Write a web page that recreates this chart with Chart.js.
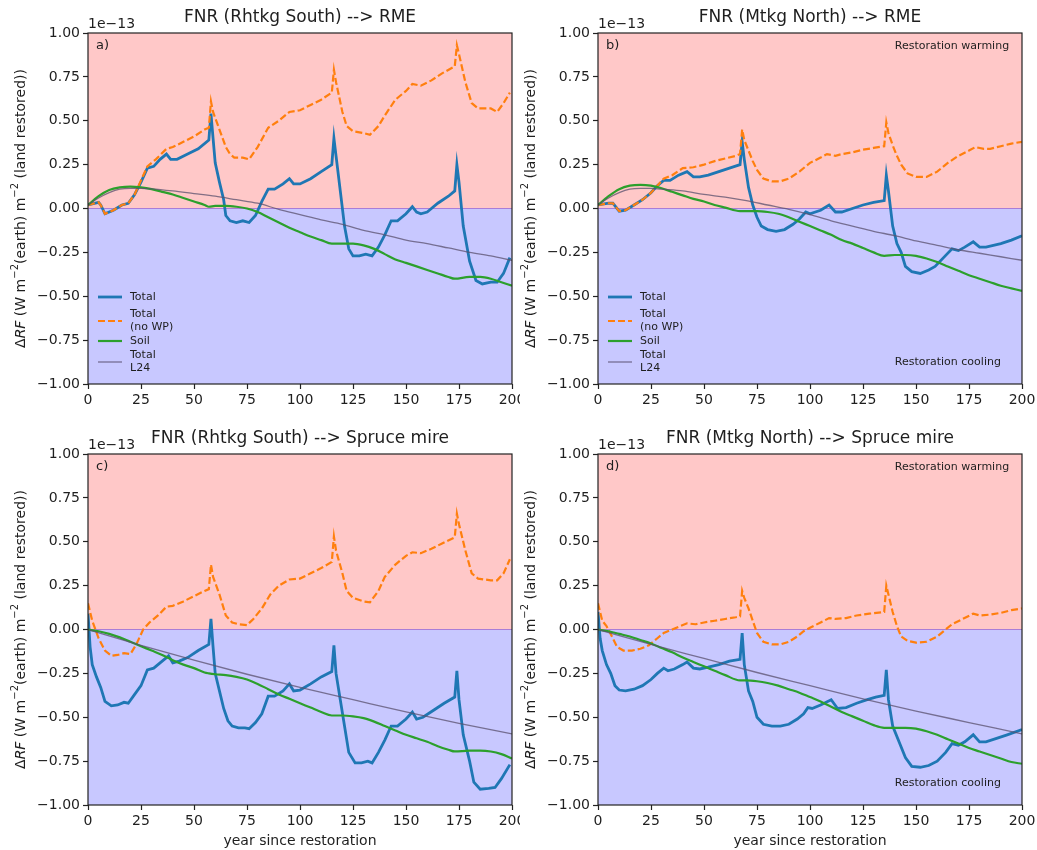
<!DOCTYPE html>
<html><head><meta charset="utf-8">
<script src="https://cdn.jsdelivr.net/npm/chart.js@4.4.0/dist/chart.umd.min.js"></script>
<style>
html,body{margin:0;padding:0;background:#fff;width:1037px;height:850px;overflow:hidden}
canvas{position:absolute}
</style></head><body>
<canvas id="ca" width="520" height="420" style="left:0;top:0"></canvas>
<canvas id="cb" width="517" height="420" style="left:520px;top:0"></canvas>
<canvas id="cc" width="520" height="430" style="left:0;top:420px"></canvas>
<canvas id="cd" width="517" height="430" style="left:520px;top:420px"></canvas>
<script>
// ---------- data (units of 1e-13 W m-2(earth) m-2 (land restored)) ----------
const xTicks = [0, 25, 50, 75, 100, 125, 150, 175, 200];
const yTicks = [-1, -0.75, -0.5, -0.25, 0, 0.25, 0.5, 0.75, 1];
const seriesLabels = [['Total'], ['Total', '(no WP)'], ['Soil'], ['Total', 'L24']];
const panelTitles = ['FNR (Rhtkg South) --> RME', 'FNR (Mtkg North) --> RME',
                     'FNR (Rhtkg South) --> Spruce mire', 'FNR (Mtkg North) --> Spruce mire'];
const panelLetters = ['a)', 'b)', 'c)', 'd)'];
const xTitle = 'year since restoration';
const warmText = 'Restoration warming';
const coolText = 'Restoration cooling';
const scaleText = '1e\u221213';

const a_total = [[0,0.02],[5,0.035],[6,0.02],[8,-0.03],[12,-0.01],[16,0.02],[19,0.03],[22,0.08],[25,0.15],[28,0.23],[31,0.24],[34,0.28],[37,0.31],[39,0.28],[42,0.28],[47,0.31],[52,0.34],[57,0.39],[58,0.54],[59,0.40],[60,0.26],[62,0.15],[64,0.05],[65,-0.04],[67,-0.07],[70,-0.08],[73,-0.07],[76,-0.08],[79,-0.04],[82,0.04],[85,0.11],[88,0.11],[92,0.14],[95,0.17],[97,0.14],[100,0.14],[105,0.17],[110,0.21],[115,0.25],[116,0.40],[117,0.3],[119,0.1],[121,-0.1],[123,-0.23],[125,-0.27],[128,-0.27],[131,-0.26],[134,-0.27],[137,-0.22],[140,-0.15],[143,-0.07],[146,-0.07],[150,-0.03],[153,0.01],[155,-0.02],[157,-0.03],[160,-0.02],[165,0.03],[170,0.07],[173,0.1],[174,0.25],[175,0.15],[177,-0.1],[180,-0.3],[183,-0.41],[186,-0.43],[190,-0.42],[193,-0.42],[196,-0.37],[199,-0.28]];
const a_nowp = [[0,0.02],[5,0.035],[6,0.02],[8,-0.03],[12,-0.01],[16,0.02],[19,0.03],[22,0.08],[25,0.16],[28,0.24],[32,0.28],[37,0.34],[40,0.35],[45,0.38],[50,0.41],[55,0.45],[57,0.46],[58,0.61],[59,0.55],[62,0.45],[65,0.35],[67,0.31],[69,0.29],[73,0.29],[76,0.28],[80,0.35],[85,0.46],[90,0.5],[95,0.55],[100,0.56],[105,0.59],[110,0.62],[115,0.66],[116,0.79],[117,0.72],[120,0.55],[122,0.47],[125,0.44],[130,0.43],[133,0.42],[137,0.47],[140,0.53],[145,0.62],[150,0.67],[153,0.71],[157,0.7],[162,0.73],[167,0.77],[173,0.81],[174,0.93],[175,0.88],[178,0.72],[181,0.6],[184,0.57],[190,0.57],[193,0.55],[196,0.6],[199,0.66]];
const a_soil = [[0,0.02],[5,0.07],[10,0.105],[15,0.12],[20,0.125],[25,0.12],[30,0.11],[35,0.095],[40,0.08],[45,0.06],[50,0.04],[55,0.02],[57,0.01],[60,0.015],[65,0.015],[70,0.01],[75,0.0],[80,-0.02],[85,-0.05],[90,-0.08],[95,-0.11],[100,-0.135],[105,-0.16],[110,-0.18],[115,-0.2],[120,-0.2],[125,-0.2],[130,-0.21],[135,-0.23],[140,-0.26],[145,-0.29],[150,-0.31],[155,-0.33],[160,-0.35],[165,-0.37],[170,-0.39],[173,-0.4],[180,-0.39],[185,-0.39],[190,-0.4],[195,-0.42],[200,-0.44]];
const a_l24 = [[0,0.02],[5,0.06],[10,0.09],[15,0.11],[20,0.115],[25,0.115],[30,0.112],[40,0.1],[50,0.085],[60,0.07],[70,0.05],[80,0.03],[90,-0.005],[100,-0.035],[110,-0.065],[120,-0.09],[130,-0.125],[140,-0.15],[150,-0.18],[160,-0.2],[170,-0.225],[180,-0.25],[190,-0.27],[200,-0.295]];

const b_total = [[0,0.02],[5,0.03],[7,0.03],[10,-0.015],[13,-0.01],[17,0.02],[21,0.05],[25,0.09],[28,0.13],[31,0.16],[34,0.16],[38,0.19],[42,0.21],[45,0.18],[48,0.18],[52,0.19],[57,0.21],[62,0.23],[67,0.25],[68,0.38],[69,0.28],[71,0.12],[73,0.02],[75,-0.05],[77,-0.1],[80,-0.12],[84,-0.13],[88,-0.12],[92,-0.09],[95,-0.06],[98,-0.02],[100,-0.03],[105,-0.01],[109,0.02],[112,-0.02],[115,-0.02],[120,0.0],[125,0.02],[130,0.035],[135,0.045],[136,0.19],[137,0.1],[139,-0.1],[141,-0.2],[143,-0.25],[145,-0.33],[148,-0.36],[152,-0.37],[156,-0.35],[159,-0.33],[163,-0.28],[167,-0.23],[170,-0.24],[173,-0.22],[177,-0.19],[180,-0.22],[183,-0.22],[190,-0.2],[195,-0.18],[200,-0.155]];
const b_nowp = [[0,0.02],[5,0.03],[7,0.03],[10,-0.015],[13,-0.01],[17,0.02],[21,0.05],[25,0.09],[28,0.13],[31,0.17],[35,0.19],[40,0.23],[45,0.235],[50,0.25],[55,0.27],[60,0.285],[65,0.3],[67,0.31],[68,0.45],[69,0.39],[71,0.33],[73,0.27],[75,0.22],[78,0.17],[82,0.155],[86,0.155],[90,0.17],[95,0.21],[100,0.26],[105,0.29],[108,0.31],[112,0.3],[115,0.31],[120,0.32],[125,0.335],[130,0.345],[135,0.355],[136,0.49],[137,0.43],[139,0.36],[141,0.3],[143,0.25],[146,0.2],[150,0.18],[155,0.18],[160,0.21],[165,0.26],[170,0.3],[175,0.33],[178,0.35],[182,0.34],[185,0.34],[190,0.355],[195,0.37],[200,0.38]];
const b_soil = [[0,0.02],[5,0.07],[10,0.11],[15,0.13],[20,0.135],[25,0.13],[30,0.115],[35,0.095],[40,0.075],[45,0.055],[50,0.04],[55,0.02],[60,0.005],[67,-0.015],[70,-0.015],[75,-0.015],[80,-0.02],[85,-0.03],[90,-0.05],[95,-0.075],[100,-0.1],[105,-0.125],[110,-0.15],[115,-0.18],[120,-0.2],[125,-0.225],[130,-0.25],[135,-0.27],[140,-0.265],[145,-0.265],[150,-0.27],[155,-0.285],[160,-0.305],[165,-0.33],[170,-0.355],[175,-0.38],[180,-0.4],[185,-0.42],[190,-0.44],[195,-0.455],[200,-0.47]];
const b_l24 = [[0,0.02],[5,0.06],[10,0.09],[15,0.11],[20,0.115],[25,0.115],[30,0.11],[40,0.1],[50,0.08],[60,0.065],[70,0.045],[80,0.02],[90,-0.005],[100,-0.035],[110,-0.07],[120,-0.1],[130,-0.13],[140,-0.155],[150,-0.185],[160,-0.21],[170,-0.235],[180,-0.255],[190,-0.275],[200,-0.295]];

const c_total = [[0,0.09],[1,-0.1],[2,-0.2],[4,-0.27],[6,-0.33],[8,-0.41],[11,-0.435],[14,-0.43],[17,-0.415],[19,-0.42],[22,-0.37],[25,-0.32],[28,-0.23],[31,-0.22],[35,-0.18],[38,-0.15],[40,-0.19],[43,-0.18],[47,-0.16],[52,-0.12],[57,-0.085],[58,0.06],[59,-0.1],[60,-0.25],[62,-0.35],[64,-0.45],[66,-0.52],[68,-0.55],[71,-0.56],[74,-0.56],[76,-0.565],[79,-0.53],[82,-0.48],[85,-0.38],[88,-0.38],[92,-0.35],[95,-0.31],[97,-0.35],[100,-0.345],[105,-0.31],[110,-0.27],[115,-0.24],[116,-0.09],[117,-0.25],[119,-0.4],[121,-0.55],[123,-0.7],[126,-0.76],[129,-0.76],[132,-0.75],[134,-0.76],[137,-0.7],[140,-0.63],[143,-0.55],[146,-0.55],[150,-0.51],[153,-0.47],[155,-0.51],[158,-0.5],[163,-0.46],[168,-0.42],[173,-0.385],[174,-0.235],[175,-0.4],[177,-0.6],[180,-0.75],[182,-0.87],[185,-0.91],[189,-0.905],[192,-0.9],[195,-0.85],[199,-0.77]];
const c_nowp = [[0,0.15],[2,0.05],[5,-0.05],[8,-0.12],[11,-0.15],[14,-0.145],[17,-0.135],[20,-0.14],[23,-0.08],[26,0.0],[29,0.04],[33,0.08],[37,0.13],[40,0.135],[45,0.16],[50,0.19],[55,0.22],[57,0.23],[58,0.37],[59,0.3],[62,0.2],[65,0.08],[68,0.04],[71,0.03],[75,0.025],[78,0.06],[82,0.12],[86,0.2],[90,0.25],[95,0.285],[100,0.29],[105,0.32],[110,0.35],[115,0.385],[116,0.53],[117,0.45],[120,0.32],[122,0.22],[125,0.18],[130,0.16],[133,0.155],[137,0.22],[140,0.3],[145,0.37],[150,0.42],[153,0.44],[157,0.435],[162,0.46],[167,0.49],[173,0.525],[174,0.66],[175,0.6],[178,0.45],[181,0.32],[184,0.29],[190,0.28],[193,0.28],[196,0.32],[199,0.4]];
const c_soil = [[0,0.0],[5,-0.01],[10,-0.025],[15,-0.045],[20,-0.07],[25,-0.095],[30,-0.12],[35,-0.145],[40,-0.175],[45,-0.2],[50,-0.22],[55,-0.245],[57,-0.25],[60,-0.255],[65,-0.26],[70,-0.27],[75,-0.285],[80,-0.31],[85,-0.34],[90,-0.37],[95,-0.395],[100,-0.42],[105,-0.445],[110,-0.47],[115,-0.49],[120,-0.49],[125,-0.495],[130,-0.505],[135,-0.525],[140,-0.55],[145,-0.575],[150,-0.6],[155,-0.62],[160,-0.64],[165,-0.665],[170,-0.685],[173,-0.695],[180,-0.69],[185,-0.69],[190,-0.695],[195,-0.71],[200,-0.735]];
const c_l24 = [[0,0],[25,-0.09],[50,-0.175],[75,-0.255],[100,-0.33],[125,-0.4],[150,-0.47],[175,-0.535],[200,-0.595]];

const d_total = [[0,0.1],[1,-0.05],[2,-0.12],[4,-0.2],[6,-0.25],[8,-0.32],[10,-0.345],[13,-0.35],[17,-0.34],[21,-0.32],[25,-0.285],[28,-0.25],[31,-0.22],[33,-0.235],[36,-0.225],[40,-0.2],[42,-0.185],[45,-0.22],[48,-0.225],[52,-0.215],[57,-0.2],[62,-0.18],[67,-0.17],[68,-0.02],[69,-0.2],[71,-0.35],[73,-0.41],[75,-0.5],[78,-0.54],[82,-0.55],[86,-0.55],[90,-0.54],[94,-0.51],[97,-0.48],[99,-0.445],[101,-0.45],[105,-0.43],[110,-0.4],[113,-0.45],[117,-0.445],[122,-0.42],[127,-0.4],[131,-0.385],[135,-0.375],[136,-0.23],[137,-0.4],[139,-0.55],[142,-0.64],[145,-0.73],[148,-0.78],[152,-0.785],[156,-0.775],[160,-0.75],[164,-0.7],[167,-0.65],[170,-0.66],[173,-0.64],[177,-0.6],[180,-0.64],[183,-0.64],[188,-0.62],[193,-0.6],[200,-0.57]];
const d_nowp = [[0,0.15],[2,0.05],[4,0.02],[7,-0.05],[9,-0.1],[12,-0.12],[16,-0.12],[20,-0.11],[24,-0.09],[28,-0.05],[31,-0.02],[35,0.0],[39,0.02],[42,0.035],[46,0.03],[50,0.04],[55,0.05],[60,0.06],[65,0.07],[67,0.075],[68,0.22],[69,0.18],[71,0.12],[73,0.05],[75,-0.02],[78,-0.07],[82,-0.085],[86,-0.085],[90,-0.07],[94,-0.04],[97,-0.01],[100,0.01],[105,0.04],[109,0.065],[112,0.06],[117,0.065],[122,0.08],[128,0.09],[135,0.1],[136,0.25],[137,0.2],[139,0.1],[141,0.02],[143,-0.04],[146,-0.065],[150,-0.075],[155,-0.07],[160,-0.04],[164,0.0],[167,0.03],[172,0.06],[177,0.09],[180,0.08],[185,0.085],[190,0.095],[195,0.11],[200,0.12]];
const d_soil = [[0,0.0],[5,-0.01],[10,-0.025],[15,-0.04],[20,-0.06],[25,-0.08],[30,-0.105],[35,-0.13],[40,-0.16],[45,-0.185],[50,-0.21],[55,-0.235],[60,-0.26],[67,-0.29],[70,-0.29],[75,-0.295],[80,-0.305],[85,-0.32],[90,-0.34],[95,-0.36],[100,-0.385],[105,-0.41],[110,-0.44],[115,-0.47],[120,-0.495],[125,-0.52],[130,-0.545],[135,-0.56],[140,-0.56],[145,-0.56],[150,-0.565],[155,-0.58],[160,-0.6],[165,-0.625],[170,-0.65],[175,-0.675],[180,-0.695],[185,-0.715],[190,-0.735],[195,-0.755],[200,-0.765]];
const d_l24 = [[0,0],[25,-0.085],[50,-0.165],[75,-0.245],[100,-0.32],[125,-0.395],[150,-0.465],[175,-0.53],[200,-0.595]];

// ---------- styling ----------
const FONT = "'DejaVu Sans', sans-serif";
const TXT = '#1e1e1e';
const styles = [
  {color: '#1f77b4', width: 2.8, dash: []},
  {color: '#ff7f0e', width: 2.2, dash: [7, 3]},
  {color: '#2ca02c', width: 2.2, dash: []},
  {color: 'rgba(90,80,110,0.75)', width: 1.3, dash: []}
];
const fmtTick = v => (v < 0 ? '\u2212' : '') + Math.abs(v).toFixed(2);

function drawYLabel(ctx, cx, cy) {
  const base = '14px ' + FONT, ital = 'italic 14px ' + FONT, sup = '10px ' + FONT;
  const segs = [['\u0394', base, 0], ['RF', ital, 0], [' (W m', base, 0], ['\u22122', sup, -6],
                ['(earth) m', base, 0], ['\u22122', sup, -6], [' (land restored))', base, 0]];
  let total = 0;
  segs.forEach(s => { ctx.font = s[1]; total += ctx.measureText(s[0]).width; });
  ctx.save();
  ctx.translate(cx, cy);
  ctx.rotate(-Math.PI / 2);
  ctx.fillStyle = TXT;
  ctx.textBaseline = 'middle';
  ctx.textAlign = 'left';
  let x = -total / 2;
  segs.forEach(s => { ctx.font = s[1]; ctx.fillText(s[0], x, s[2]); x += ctx.measureText(s[0]).width; });
  ctx.restore();
}

const deco = {
  id: 'deco',
  beforeDatasetsDraw(chart, args, opts) {
    const {ctx, chartArea: ca} = chart;
    const y0 = chart.scales.y.getPixelForValue(0);
    ctx.save();
    ctx.fillStyle = '#ffc8c8';
    ctx.fillRect(ca.left, ca.top, ca.width, y0 - ca.top);
    ctx.fillStyle = '#c8c8ff';
    ctx.fillRect(ca.left, y0, ca.width, ca.bottom - y0);
    ctx.strokeStyle = 'rgba(160,110,210,0.85)';
    ctx.lineWidth = 1;
    ctx.beginPath(); ctx.moveTo(ca.left, y0); ctx.lineTo(ca.right, y0); ctx.stroke();
    ctx.restore();
  },
  afterDraw(chart, args, opts) {
    const {ctx, chartArea: ca} = chart;
    const xs = chart.scales.x;
    ctx.save();
    ctx.strokeStyle = '#222'; ctx.lineWidth = 1.2;
    ctx.strokeRect(ca.left, ca.top, ca.width, ca.height);
    ctx.fillStyle = TXT;
    ctx.font = '17px ' + FONT; ctx.textAlign = 'center'; ctx.textBaseline = 'middle';
    ctx.fillText(opts.title, (ca.left + ca.right) / 2, ca.top - 15);
    ctx.font = '14px ' + FONT; ctx.textAlign = 'left'; ctx.textBaseline = 'alphabetic';
    ctx.fillText(scaleText, ca.left, ca.top - 5);
    ctx.font = '13px ' + FONT; ctx.textBaseline = 'middle';
    ctx.fillText(opts.letter, ca.left + 8, ca.top + 13);
    drawYLabel(ctx, ca.left - 67, (ca.top + ca.bottom) / 2);
    if (opts.xtitle) {
      ctx.font = '14px ' + FONT; ctx.textAlign = 'center'; ctx.textBaseline = 'middle';
      ctx.fillText(xTitle, (ca.left + ca.right) / 2, ca.bottom + 36);
    }
    if (opts.notes) {
      ctx.font = '11px ' + FONT; ctx.textAlign = 'left'; ctx.textBaseline = 'middle';
      ctx.fillText(warmText, xs.getPixelForValue(140), ca.top + 13);
      ctx.fillText(coolText, xs.getPixelForValue(140), ca.bottom - 22);
    }
    if (opts.legend) {
      ctx.font = '11px ' + FONT; ctx.textAlign = 'left'; ctx.textBaseline = 'middle';
      const rows = [-87, -63, -43, -22];
      seriesLabels.forEach((lab, i) => {
        const yy = ca.bottom + rows[i];
        const st = styles[i];
        ctx.save();
        ctx.strokeStyle = st.color; ctx.lineWidth = st.width; ctx.setLineDash(st.dash);
        ctx.beginPath(); ctx.moveTo(ca.left + 10, yy); ctx.lineTo(ca.left + 34, yy); ctx.stroke();
        ctx.restore();
        ctx.fillStyle = TXT;
        if (lab.length === 1) ctx.fillText(lab[0], ca.left + 42, yy);
        else { ctx.fillText(lab[0], ca.left + 42, yy - 6.5); ctx.fillText(lab[1], ca.left + 42, yy + 6.5); }
      });
    }
    ctx.restore();
  }
};

function makeChart(id, idx, series, cfg) {
  const names = ['Total', 'Total (no WP)', 'Soil', 'Total L24'];
  const datasets = series.map((s, i) => ({
    label: names[i],
    data: s.map(p => ({x: p[0], y: p[1]})),
    borderColor: styles[i].color,
    borderWidth: styles[i].width,
    borderDash: styles[i].dash,
    pointRadius: 0,
    fill: false,
    tension: 0,
    cubicInterpolationMode: (i >= 2) ? 'monotone' : 'default',
    order: 4 - i
  }));
  new Chart(document.getElementById(id), {
    type: 'line',
    data: {datasets},
    plugins: [deco],
    options: {
      responsive: false, animation: false, devicePixelRatio: 1,
      layout: {padding: {left: 0, top: cfg.padTop, right: cfg.padRight, bottom: 0}},
      plugins: {
        legend: {display: false}, tooltip: {enabled: false},
        deco: {title: panelTitles[idx], letter: panelLetters[idx], legend: cfg.legend, notes: cfg.notes, xtitle: cfg.xtitle}
      },
      scales: {
        x: {
          type: 'linear', min: 0, max: 200,
          afterBuildTicks: sc => { sc.ticks = xTicks.map(v => ({value: v})); },
          afterFit: sc => { sc.height = cfg.xAxisH; sc.paddingLeft = 0; sc.paddingRight = 0; },
          grid: {drawOnChartArea: false, drawTicks: true, tickLength: 5, color: '#222', tickWidth: 1.2},
          border: {display: false},
          ticks: {color: TXT, font: {family: FONT, size: 14}, padding: 3, maxRotation: 0, autoSkip: false,
                  callback: v => String(v)}
        },
        y: {
          type: 'linear', min: -1, max: 1,
          afterBuildTicks: sc => { sc.ticks = yTicks.map(v => ({value: v})); },
          afterFit: sc => { sc.width = cfg.yAxisW; sc.paddingTop = 0; sc.paddingBottom = 0; },
          grid: {drawOnChartArea: false, drawTicks: true, tickLength: 5, color: '#222', tickWidth: 1.2},
          border: {display: false},
          ticks: {color: TXT, font: {family: FONT, size: 14}, padding: 3, autoSkip: false,
                  callback: v => fmtTick(v)}
        }
      }
    }
  });
}

makeChart('ca', 0, [a_total, a_nowp, a_soil, a_l24], {padTop: 33, padRight: 8, yAxisW: 88, xAxisH: 36, legend: true, notes: false, xtitle: false});
makeChart('cb', 1, [b_total, b_nowp, b_soil, b_l24], {padTop: 33, padRight: 15, yAxisW: 78, xAxisH: 36, legend: true, notes: true, xtitle: false});
makeChart('cc', 2, [c_total, c_nowp, c_soil, c_l24], {padTop: 34, padRight: 8, yAxisW: 88, xAxisH: 45, legend: false, notes: false, xtitle: true});
makeChart('cd', 3, [d_total, d_nowp, d_soil, d_l24], {padTop: 34, padRight: 15, yAxisW: 78, xAxisH: 45, legend: false, notes: true, xtitle: true});
</script>
</body></html>
